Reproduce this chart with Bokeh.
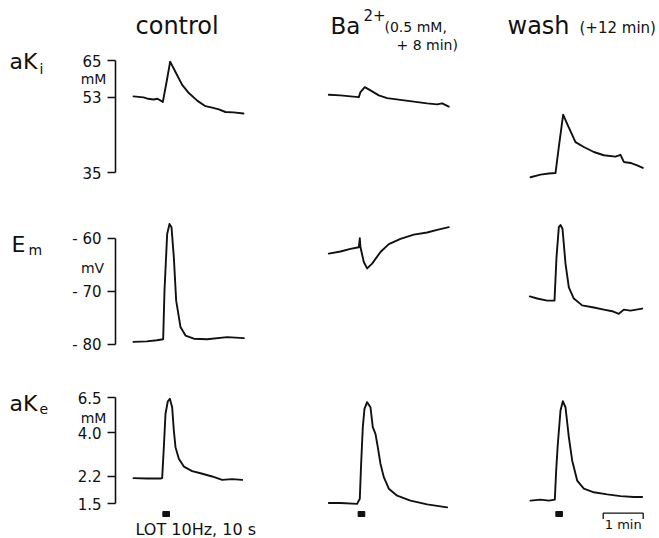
import numpy as np
from bokeh.plotting import figure
from bokeh.layouts import gridplot
from bokeh.models import Range1d, Label, FixedTicker, PrintfTickFormatter
from bokeh.embed import file_html
from bokeh.resources import INLINE

# ---------------- data (time in s from start of each trace) ----------------
columns = ["control", "Ba", "wash"]
rows = ["aKi", "Em", "aKe"]

ctrl_aki_t = [0, 15, 22, 30, 36, 44, 50, 55, 63, 73, 83, 96, 108, 118, 128, 138, 150, 165]
ctrl_aki_v = [53.3, 53.0, 52.6, 52.4, 52.6, 51.7, 58.2, 64.6, 61.0, 56.8, 54.3, 52.0, 50.5, 50.1, 49.6, 48.9, 48.8, 48.5]
ba_aki_t = [0, 17.5, 32.5, 45, 47.5, 54, 62.5, 75, 87.5, 107.5, 127.5, 147.5, 162.5, 170, 180]
ba_aki_v = [53.8, 53.6, 53.3, 53.1, 54.6, 56.1, 55.1, 53.6, 52.8, 52.3, 51.8, 51.3, 51.0, 51.3, 50.4]
wash_aki_t = [0, 15, 27.5, 37.5, 42.5, 49, 55, 67.5, 80, 95, 110, 127.5, 135, 140, 150, 160, 168.5]
wash_aki_v = [34.1, 34.6, 34.8, 34.9, 40.3, 48.2, 45.8, 41.4, 40.3, 39.2, 38.5, 38.2, 38.6, 37.1, 36.9, 36.4, 35.9]

ctrl_em_t = [0, 20, 35, 44.5, 46.5, 50.5, 54, 57, 60.5, 64, 70.5, 78, 90.5, 110.5, 140.5, 165.5]
ctrl_em_v = [-79.5, -79.4, -79.2, -79.0, -69.8, -59.1, -57.2, -57.8, -63.5, -71.7, -76.7, -78.3, -78.9, -79.0, -78.6, -78.8]
ba_em_t = [0, 17.5, 32.5, 45, 46.5, 47.5, 52.5, 57.5, 65, 77.5, 90, 107.5, 127.5, 147.5, 162.5, 180]
ba_em_v = [-62.8, -62.4, -61.9, -61.6, -59.9, -61.6, -64.4, -65.6, -64.7, -62.5, -61.0, -60.0, -59.2, -58.8, -58.3, -57.8]
wash_em_t = [-1, 10, 25, 36, 39, 42.5, 45, 48, 52.5, 57.5, 65, 77.5, 95, 110, 122.5, 132.5, 140, 150, 167.5]
wash_em_v = [-70.9, -71.3, -71.7, -71.7, -63.5, -57.8, -57.4, -58.1, -64.7, -69.2, -71.3, -72.6, -73.0, -73.4, -73.7, -74.2, -73.4, -73.6, -73.2]

ctrl_ake_t = [0, 20, 40.5, 43, 45.5, 48, 51.5, 54.5, 58, 60.5, 63, 68, 75.5, 88, 100.5, 118, 133, 148, 163]
ctrl_ake_v = [2.14, 2.13, 2.13, 2.14, 3.28, 5.20, 6.18, 6.39, 5.69, 4.13, 3.28, 2.80, 2.51, 2.36, 2.29, 2.19, 2.09, 2.11, 2.09]
ba_ake_t = [0, 17.5, 42.5, 46.5, 48.5, 51, 53.5, 57.5, 62.5, 66, 70, 73.5, 77.5, 82.5, 90, 102.5, 122.5, 147.5, 177.5]
ba_ake_v = [1.52, 1.52, 1.50, 1.61, 2.61, 4.32, 5.57, 6.10, 5.69, 4.32, 3.94, 3.28, 2.61, 2.17, 1.85, 1.68, 1.57, 1.49, 1.43]
wash_ake_t = [0, 15, 27.5, 36.5, 38.5, 41, 45, 48.5, 52.5, 57.5, 62.5, 70, 80, 95, 115, 135, 155, 167.5]
wash_ake_v = [1.57, 1.59, 1.57, 1.59, 2.38, 3.44, 5.44, 6.18, 5.69, 3.77, 2.73, 2.07, 1.85, 1.76, 1.71, 1.67, 1.65, 1.65]

aki_ticks = [35, 53, 65]
em_ticks = [-80, -70, -60]
ake_ticks = [1.5, 2.2, 4.0, 6.5]
em_tick_labels = {-80: "- 80", -70: "- 70", -60: "- 60"}

stim_start = [44, 44, 38]   # s, LOT 10 Hz
stim_dur = 10               # s
scale_bar_s = 60            # 1 min

traces = [
    [(ctrl_aki_t, ctrl_aki_v), (ba_aki_t, ba_aki_v), (wash_aki_t, wash_aki_v)],
    [(ctrl_em_t, ctrl_em_v), (ba_em_t, ba_em_v), (wash_em_t, wash_em_v)],
    [(ctrl_ake_t, ctrl_ake_v), (ba_ake_t, ba_ake_v), (wash_ake_t, wash_ake_v)],
]

# ---------------- layout (page pixels) ----------------
S_PER_PX = 1.5
AXIS_PX = 115.0
COLS = [
    dict(left=0, width=300, t0=133.0),
    dict(left=300, width=200, t0=328.3),
    dict(left=500, width=159, t0=530.0),
]
ROWS = [
    dict(top=0, height=190, log=True, a=(65, 60.0), b=(35, 172.0)),
    dict(top=190, height=170, log=False, a=(-60, 238.3), b=(-80, 344.0)),
    dict(top=360, height=178, log=True, a=(6.5, 397.1), b=(1.5, 503.4)),
]
FONT = "DejaVu Sans"
INK = "#111111"
BASE_FIX = 0.33   # empirical shift of alphabetic baseline (em)


def xd(c, px):
    return (px - COLS[c]["t0"]) * S_PER_PX


def yd(r, py):
    R = ROWS[r]
    (va, ya), (vb, yb) = R["a"], R["b"]
    f = (py - ya) / (yb - ya)
    if R["log"]:
        return 10 ** (np.log10(va) + f * (np.log10(vb) - np.log10(va)))
    return va + f * (vb - va)


def txt(p, r, c, px, py, text, size, align="left"):
    p.add_layout(Label(x=xd(c, px), y=yd(r, py - BASE_FIX * size), text=text,
                       text_font=FONT, text_font_size=f"{size}px", text_color=INK,
                       text_align=align, text_baseline="alphabetic"))


figs = []
for r in range(3):
    R = ROWS[r]
    rowfigs = []
    for c in range(3):
        C = COLS[c]
        p = figure(width=C["width"], height=R["height"],
                   x_range=Range1d(xd(c, C["left"]), xd(c, C["left"] + C["width"])),
                   y_range=Range1d(yd(r, R["top"] + R["height"]), yd(r, R["top"])),
                   y_axis_type="log" if R["log"] else "linear",
                   x_axis_location=None,
                   y_axis_location="left" if c == 0 else None,
                   toolbar_location=None, output_backend="svg", min_border=0)
        p.outline_line_color = None
        p.background_fill_color = "white"
        p.border_fill_color = "white"
        p.xgrid.visible = False
        p.ygrid.visible = False
        t, v = traces[r][c]
        p.line(t, v, line_color=INK, line_width=1.9, line_join="round", line_cap="round")
        rowfigs.append(p)
    figs.append(rowfigs)

# ---- left axes (control column), drawn inside the frame at a fixed spot ----
axis_cfg = [
    (aki_ticks, (35, 65), PrintfTickFormatter(format="%d"), None),
    (em_ticks, (-80, -60), None, em_tick_labels),
    (ake_ticks, (1.5, 6.5), PrintfTickFormatter(format="%.1f"), None),
]
for r in range(3):
    ax = figs[r][0].yaxis[0]
    ticks, bounds, fmt, over = axis_cfg[r]
    ax.fixed_location = xd(0, AXIS_PX)
    ax.ticker = FixedTicker(ticks=ticks, minor_ticks=[])
    ax.bounds = bounds
    if fmt is not None:
        ax.formatter = fmt
    if over is not None:
        ax.major_label_overrides = over
    ax.major_tick_out = 8
    ax.major_tick_in = 0
    ax.minor_tick_out = 0
    ax.minor_tick_in = 0
    ax.major_label_standoff = 6
    ax.axis_line_width = 1.6
    ax.major_tick_line_width = 1.6
    ax.axis_line_color = INK
    ax.major_tick_line_color = INK
    ax.major_label_text_font = FONT
    ax.major_label_text_font_size = "15px"
    ax.major_label_text_color = INK

# ---- row labels & units ----
txt(figs[0][0], 0, 0, 9, 68, "aK", 22)
txt(figs[0][0], 0, 0, 39, 73, "i", 14)
txt(figs[0][0], 0, 0, 93, 83, "mM", 14, align="center")
txt(figs[1][0], 1, 0, 11, 251, "E", 22)
txt(figs[1][0], 1, 0, 28, 254, "m", 14)
txt(figs[1][0], 1, 0, 92, 272, "mV", 14, align="center")
txt(figs[2][0], 2, 0, 9, 410, "aK", 22)
txt(figs[2][0], 2, 0, 39, 413, "e", 14)
txt(figs[2][0], 2, 0, 93, 422, "mM", 14, align="center")

# ---- column headers ----
txt(figs[0][0], 0, 0, 135, 33, "control", 24)
txt(figs[0][1], 0, 1, 330, 33, "Ba", 23)
txt(figs[0][1], 0, 1, 363, 19, "2+", 15)
txt(figs[0][1], 0, 1, 384, 31, "(0.5 mM,", 14)
txt(figs[0][1], 0, 1, 396, 49, "+ 8 min)", 14)
txt(figs[0][2], 0, 2, 507, 33, "wash", 24)
txt(figs[0][2], 0, 2, 579, 32, "(+12 min)", 15)

# ---- stimulus markers, LOT label, time scale bar ----
mark_y = yd(2, 513.5)
for c in range(3):
    figs[2][c].rect(x=[stim_start[c] + stim_dur / 2], y=[mark_y], width=stim_dur,
                    height=5, height_units="screen", fill_color=INK, line_color=INK)
txt(figs[2][0], 2, 0, 135, 534, "LOT 10Hz, 10 s", 16)

sb0 = xd(2, 602.7)
sb_top, sb_bot = yd(2, 512.7), yd(2, 518.5)
figs[2][2].line([sb0, sb0, sb0 + scale_bar_s, sb0 + scale_bar_s],
                [sb_bot, sb_top, sb_top, sb_bot], line_color=INK, line_width=1.3)
txt(figs[2][2], 2, 2, 622.7, 528, "1 min", 13, align="center")

grid = gridplot(figs, toolbar_location=None)
open("out.html", "w").write(file_html(grid, INLINE))
